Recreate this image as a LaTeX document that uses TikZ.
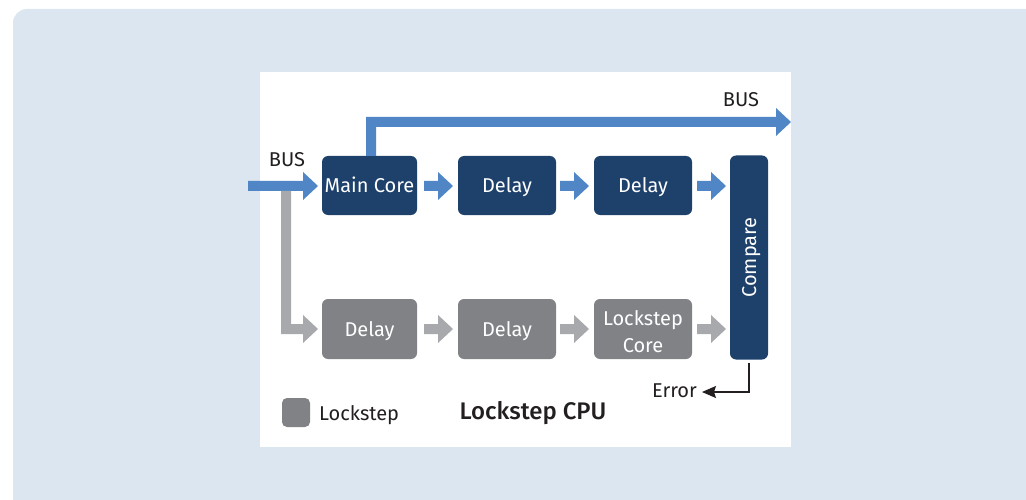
\documentclass[tikz,border=0pt]{standalone}
\usepackage{fontspec}
\setmainfont{Fira Sans}
\newfontfamily\medfont{Fira Sans Medium}
\usetikzlibrary{calc,arrows.meta}
\definecolor{bgblue}{RGB}{220,230,240}
\definecolor{darkblue}{RGB}{30,65,108}
\definecolor{arrblue}{RGB}{80,134,198}
\definecolor{boxgray}{RGB}{128,130,134}
\definecolor{arrgray}{RGB}{167,169,172}
\definecolor{txt}{RGB}{35,31,32}
\tikzset{
  x=1pt, y=-1pt,
  corebox/.style={fill=darkblue, rounded corners=6pt, text=white, font=\fontsize{20}{27}\selectfont, align=center, inner sep=0pt, text height=14pt, text depth=0pt},
  lockbox/.style={corebox, fill=boxgray},
  boxtext/.style={text=white, font=\fontsize{20}{24}\selectfont, inner sep=0pt, anchor=base},
  lbl/.style={text=txt, font=\fontsize{20}{24}\selectfont, inner sep=0pt, text height=14pt, text depth=0pt},
}
% block arrow: \harrow{color}{x1}{x2}{y}  (horizontal, head at x2)
\newcommand{\harrow}[4]{%
  \fill[#1] (#2,#4-5) -- (#3-15,#4-5) -- (#3-15,#4-14) -- (#3,#4) -- (#3-15,#4+14) -- (#3-15,#4+5) -- (#2,#4+5) -- cycle;}
\begin{document}
\begin{tikzpicture}
\useasboundingbox (0,0) rectangle (1026,500);
\begin{scope}
\clip (0,0) rectangle (1026,500);
\fill[bgblue, rounded corners=14pt] (13,9) rectangle (1060,540);
\end{scope}
\fill[white] (260,72) rectangle (791,447);

% nodes
\node[corebox, minimum width=95pt, minimum height=59pt] (main) at (369.5,185.5) {Main Core};
\node[corebox, minimum width=98pt, minimum height=59pt] (d1) at (507,185.5) {Delay};
\node[corebox, minimum width=98pt, minimum height=59pt] (d2) at (643,185.5) {Delay};
\node[corebox, minimum width=38pt, minimum height=204pt] (cmp) at (749,257.5) {};
\node[text=white, font=\fontsize{20}{24}\selectfont, rotate=90, inner sep=0pt, text height=14pt, text depth=0pt] (cmpt) at (cmp.center) {Compare};
\node[lockbox, minimum width=95pt, minimum height=60pt] (l1) at (369.5,329) {Delay};
\node[lockbox, minimum width=98pt, minimum height=60pt] (l2) at (507,329) {Delay};
\node[lockbox, minimum width=98pt, minimum height=60pt] (l3) at (643,329) {};
\node[boxtext] (l3a) at (643,325) {Lockstep};
\node[boxtext] (l3b) at (643,352) {Core};

% blue arrows
\harrow{arrblue}{248}{318}{186}
\harrow{arrblue}{424}{453}{186}
\harrow{arrblue}{560}{589}{186}
\harrow{arrblue}{697}{726}{186}
% top bus
\fill[arrblue] (366,156) -- (366,117) -- (776,117) -- (776,108) -- (791,122) -- (776,136) -- (776,127) -- (376,127) -- (376,156) -- cycle;
% gray branch
\fill[arrgray] (281,191) -- (281,334) -- (303,334) -- (303,343) -- (318,329) -- (303,315) -- (303,324) -- (291,324) -- (291,191) -- cycle;
\harrow{arrgray}{424}{453}{329}
\harrow{arrgray}{560}{589}{329}
\harrow{arrgray}{697}{726}{329}

% labels
\node[lbl] (busin) at (287,160) {BUS};
\node[lbl] (busout) at (741,100) {BUS};

% error
\coordinate (errc) at (749,392);
\node[lbl, anchor=east] (err) at (697,390) {Error};
\draw[line width=1.4pt, txt, -{Stealth[length=14pt,width=12pt,inset=2pt]}] ($(cmp.south)+(0,3)$) -- (errc) -- ([xshift=5pt,yshift=-2pt]err.east);

% legend
\node[fill=boxgray, rounded corners=5pt, minimum width=28pt, minimum height=29pt, inner sep=0pt] (leg) at (296,412.5) {};
\node[lbl, anchor=west] (legt) at (319,413) {Lockstep};
\node[text=txt, font=\fontsize{24}{28}\medfont, inner sep=0pt, text height=17pt, text depth=0pt] (title) at (533,411) {Lockstep CPU};
\end{tikzpicture}
\end{document}
